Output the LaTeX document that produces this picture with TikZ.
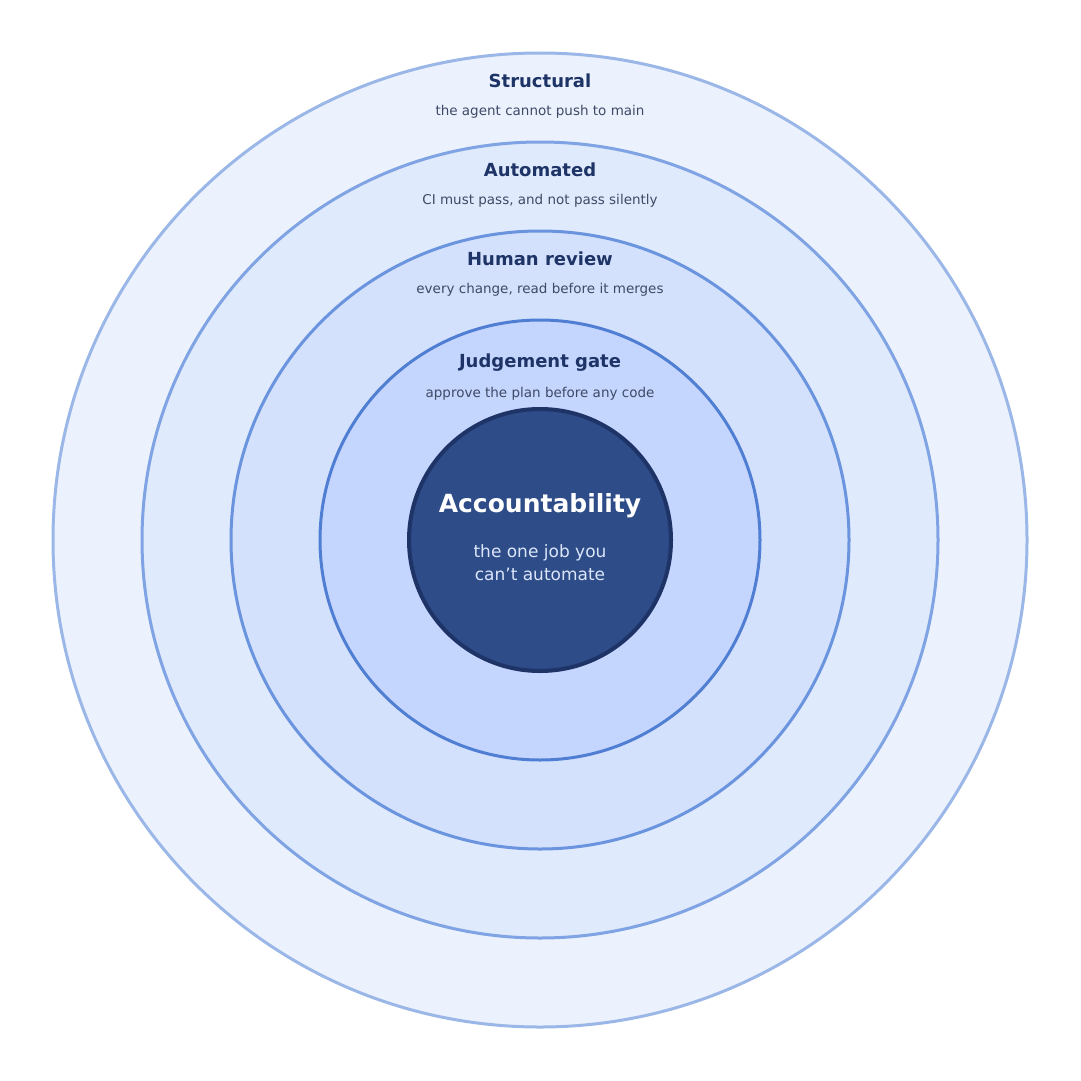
\documentclass[tikz,border=0pt]{standalone}
\usepackage{fontspec}
\setmainfont{DejaVu Sans}
\definecolor{ringA}{HTML}{EBF2FE}\definecolor{edgeA}{HTML}{9AB7E8}
\definecolor{ringB}{HTML}{DFEAFD}\definecolor{edgeB}{HTML}{7FA3E3}
\definecolor{ringC}{HTML}{D3E1FD}\definecolor{edgeC}{HTML}{6A94DE}
\definecolor{ringD}{HTML}{C4D5FE}\definecolor{edgeD}{HTML}{4F7ED3}
\definecolor{core}{HTML}{2D4C88}\definecolor{coreEdge}{HTML}{1E3366}
\definecolor{titleC}{HTML}{1E3366}\definecolor{subC}{HTML}{3F4A66}
\definecolor{coreSub}{HTML}{DCE6FA}
\begin{document}
\begin{tikzpicture}[x = 1pt, y = -1pt]
\tikzstyle{RingStyle}=[shape = circle,
                       inner sep = 0pt,
                       line width = 3pt]
\tikzstyle{TitleStyle}=[text = titleC, font = \fontsize{18}{20}\selectfont\bfseries]
\tikzstyle{SubStyle}=[text = subC, font = \fontsize{13.5}{15}\selectfont]
\useasboundingbox (0,0) rectangle (1081,1081);
\node[RingStyle, minimum size = 974pt, fill = ringA, draw = edgeA] (structural) at (540,540) {};
\node[RingStyle, minimum size = 796pt, fill = ringB, draw = edgeB] (automated) at (540,540) {};
\node[RingStyle, minimum size = 618pt, fill = ringC, draw = edgeC] (review) at (540,540) {};
\node[RingStyle, minimum size = 440pt, fill = ringD, draw = edgeD] (gate) at (540,540) {};
\node[RingStyle, minimum size = 262pt, fill = core, draw = coreEdge, line width = 4pt] (core) at (540,540) {};
% ring labels
\node[TitleStyle] (structuralT) at (540,81) {Structural};
\node[SubStyle] (structuralS) at (540,112) {the agent cannot push to main};
\node[TitleStyle] (automatedT) at (540,170) {Automated};
\node[SubStyle] (automatedS) at (540,201) {CI must pass, and not pass silently};
\node[TitleStyle] (reviewT) at (540,259) {Human review};
\node[SubStyle] (reviewS) at (540,290) {every change, read before it merges};
\node[TitleStyle] (gateT) at (540,363) {Judgement gate};
\node[SubStyle] (gateS) at (540,394) {approve the plan before any code};
% core labels
\node[text = white, font = \fontsize{25}{28}\selectfont\bfseries] (coreT) at (540,506) {Accountability};
\node[text = coreSub, font = \fontsize{17}{23}\selectfont, align = center] (coreS) at (540,563) {the one job you\\can't automate};
\end{tikzpicture}
\end{document}
